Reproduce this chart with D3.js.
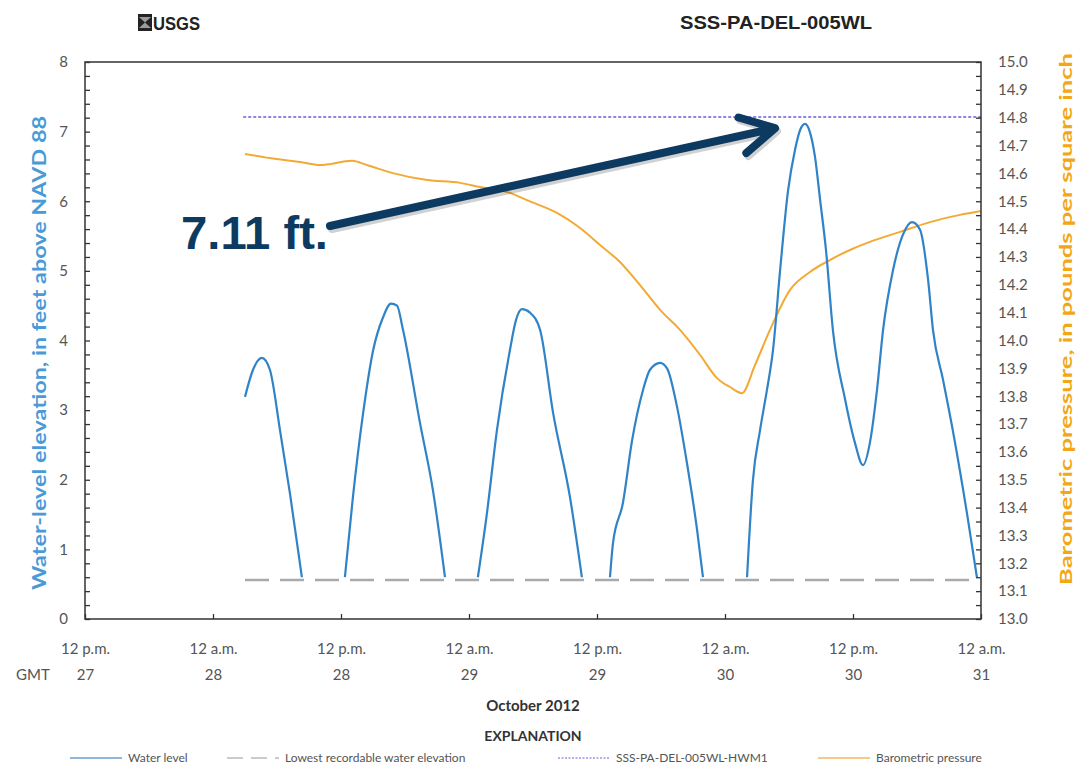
<!DOCTYPE html>
<html>
<head>
<meta charset="utf-8">
<script src="https://cdn.jsdelivr.net/npm/d3@7"></script>
<style>
  html, body { margin: 0; padding: 0; background: #fff; }
  svg { display: block; }
  text { font-family: Lato, "Open Sans", sans-serif; }
</style>
</head>
<body>
<script>
// chart size and plot frame
const width = 1086,
      height = 768,
      margin = {top: 62, right: 105, bottom: 149, left: 85};

const innerWidth = width - margin.left - margin.right,
      innerHeight = height - margin.top - margin.bottom;

// ---- data ----
// water level, ft above NAVD 88 (gaps are where it fell below the sensor)
const waterSegments = [
  [["2012-10-28 03:00", 3.19], ["2012-10-28 03:45", 3.58], ["2012-10-28 04:35", 3.75], ["2012-10-28 05:20", 3.58],
   ["2012-10-28 06:17", 2.71], ["2012-10-28 07:13", 1.80], ["2012-10-28 08:20", 0.60]],
  [["2012-10-28 12:22", 0.60], ["2012-10-28 13:07", 1.75], ["2012-10-28 14:04", 2.95], ["2012-10-28 15:00", 3.85],
   ["2012-10-28 15:56", 4.33], ["2012-10-28 16:41", 4.53], ["2012-10-28 17:15", 4.50], ["2012-10-28 17:49", 4.15],
   ["2012-10-28 19:24", 2.82], ["2012-10-28 20:37", 1.85], ["2012-10-28 21:45", 0.60]],
  [["2012-10-29 00:50", 0.60], ["2012-10-29 01:41", 1.52], ["2012-10-29 02:37", 2.71], ["2012-10-29 03:50", 3.86],
   ["2012-10-29 04:25", 4.30], ["2012-10-29 04:58", 4.45], ["2012-10-29 05:43", 4.40], ["2012-10-29 06:40", 4.15],
   ["2012-10-29 07:53", 2.96], ["2012-10-29 09:28", 1.75], ["2012-10-29 10:35", 0.60]],
  [["2012-10-29 13:13", 0.60], ["2012-10-29 13:30", 1.09], ["2012-10-29 14:26", 1.67], ["2012-10-29 15:17", 2.56],
   ["2012-10-29 16:19", 3.29], ["2012-10-29 16:58", 3.58], ["2012-10-29 17:55", 3.68], ["2012-10-29 18:34", 3.60],
   ["2012-10-29 19:30", 3.05], ["2012-10-29 20:26", 2.24], ["2012-10-29 21:23", 1.28], ["2012-10-29 21:56", 0.60]],
  [["2012-10-30 02:04", 0.60], ["2012-10-30 02:37", 1.99], ["2012-10-30 03:17", 2.71], ["2012-10-30 03:56", 3.29],
   ["2012-10-30 04:30", 3.86], ["2012-10-30 05:10", 5.01], ["2012-10-30 05:55", 6.16], ["2012-10-30 06:34", 6.74],
   ["2012-10-30 07:02", 7.02], ["2012-10-30 07:30", 7.11], ["2012-10-30 07:58", 6.99], ["2012-10-30 08:26", 6.64],
   ["2012-10-30 08:55", 6.02], ["2012-10-30 09:28", 5.30], ["2012-10-30 10:07", 4.15], ["2012-10-30 11:15", 3.16],
   ["2012-10-30 12:11", 2.53], ["2012-10-30 12:56", 2.21], ["2012-10-30 13:35", 2.53], ["2012-10-30 14:15", 3.29],
   ["2012-10-30 14:49", 4.15], ["2012-10-30 15:45", 5.01], ["2012-10-30 16:41", 5.52], ["2012-10-30 17:32", 5.70],
   ["2012-10-30 18:17", 5.59], ["2012-10-30 19:02", 4.88], ["2012-10-30 19:30", 4.15], ["2012-10-30 20:26", 3.44],
   ["2012-10-30 21:22", 2.70], ["2012-10-30 22:41", 1.52], ["2012-10-30 23:37", 0.60]]
];

// barometric pressure, psi
const pressure = [
  ["2012-10-28 03:00", 14.670], ["2012-10-28 05:20", 14.655], ["2012-10-28 08:10", 14.641], ["2012-10-28 10:02", 14.630],
  ["2012-10-28 13:02", 14.645], ["2012-10-28 14:26", 14.630], ["2012-10-28 16:52", 14.601], ["2012-10-28 20:04", 14.576],
  ["2012-10-28 23:10", 14.566], ["2012-10-29 01:02", 14.551], ["2012-10-29 03:50", 14.530], ["2012-10-29 05:26", 14.504],
  ["2012-10-29 08:15", 14.458], ["2012-10-29 10:25", 14.404], ["2012-10-29 12:17", 14.343], ["2012-10-29 14:09", 14.282],
  ["2012-10-29 16:02", 14.199], ["2012-10-29 17:55", 14.110], ["2012-10-29 19:47", 14.038], ["2012-10-29 21:40", 13.948],
  ["2012-10-29 23:15", 13.865], ["2012-10-30 00:28", 13.833], ["2012-10-30 01:35", 13.811], ["2012-10-30 02:49", 13.912],
  ["2012-10-30 04:13", 14.038], ["2012-10-30 06:05", 14.181], ["2012-10-30 07:58", 14.246], ["2012-10-30 09:50", 14.289],
  ["2012-10-30 11:43", 14.325], ["2012-10-30 13:35", 14.354], ["2012-10-30 16:25", 14.390], ["2012-10-30 19:13", 14.425],
  ["2012-10-30 22:02", 14.451], ["2012-10-31 00:00", 14.465]
];

const hwmLevel = 7.21;                 // high-water mark
const hwmRange = ["2012-10-28 02:50", "2012-10-31 00:00"];
const lowestLevel = 0.56;              // lowest recordable elevation
const lowestRange = ["2012-10-28 03:00", "2012-10-30 23:30"];
const peakTime = "2012-10-30 07:30", peakValue = 7.11;

// x axis tick labels
const xTicks = ["2012-10-27 12:00", "2012-10-28 00:00", "2012-10-28 12:00", "2012-10-29 00:00",
                "2012-10-29 12:00", "2012-10-30 00:00", "2012-10-30 12:00", "2012-10-31 00:00"];
const xTickTop = ["12 p.m.", "12 a.m.", "12 p.m.", "12 a.m.", "12 p.m.", "12 a.m.", "12 p.m.", "12 a.m."];
const xTickDay = ["27", "28", "28", "29", "29", "30", "30", "31"];

const legendItems = [
  {label: "Water level", key: "water"},
  {label: "Lowest recordable water elevation", key: "lowest"},
  {label: "SSS-PA-DEL-005WL-HWM1", key: "hwm"},
  {label: "Barometric pressure", key: "baro"}
];

// colours
const waterColor = "#2f83c6",
      baroColor = "#f3aa35",
      hwmColor = "#6a5fd6",
      lowestColor = "#aaaaaa",
      arrowColor = "#0c3a60";

const headFont = "'Liberation Sans', Arial, sans-serif";

const parseTime = d3.timeParse("%Y-%m-%d %H:%M");

// ---- svg ----
const root = d3.select("body")
  .append("svg")
    .attr("width", width)
    .attr("height", height)
    .attr("viewBox", "0 0 " + width + " " + height);

const svg = root.append("g")
    .attr("transform", "translate(" + margin.left + "," + margin.top + ")");

// scales
const xScale = d3.scaleTime()
  .domain([parseTime(xTicks[0]), parseTime(xTicks[xTicks.length - 1])])
  .range([0, innerWidth]);

const yLeft = d3.scaleLinear().domain([0, 8]).range([innerHeight, 0]);
const yRight = d3.scaleLinear().domain([13, 15]).range([innerHeight, 0]);

// ---- header ----
// USGS logo (rough)
const logo = root.append("g").attr("transform", "translate(138,14)");
logo.append("rect").attr("width", 14).attr("height", 17).attr("fill", "#222");
logo.append("path").attr("d", "M1,3 L7,8.5 L13,3 Z M1,14 L7,8.5 L13,14 Z").attr("fill", "#fff").attr("opacity", 0.55);
logo.append("text")
  .attr("x", 15).attr("y", 16)
  .attr("textLength", 47).attr("lengthAdjust", "spacingAndGlyphs")
  .style("font-family", headFont)
  .attr("font-weight", "bold").attr("font-size", 19).attr("fill", "#222")
  .text("USGS");

root.append("text")
  .attr("x", 680).attr("y", 29)
  .attr("textLength", 192).attr("lengthAdjust", "spacingAndGlyphs")
  .style("font-family", headFont)
  .attr("font-weight", "bold").attr("font-size", 18).attr("fill", "#222")
  .text("SSS-PA-DEL-005WL");

// ---- reference lines ----
svg.append("line")
  .attr("x1", xScale(parseTime(lowestRange[0]))).attr("x2", xScale(parseTime(lowestRange[1])))
  .attr("y1", yLeft(lowestLevel)).attr("y2", yLeft(lowestLevel))
  .attr("stroke", lowestColor).attr("stroke-width", 2.5).attr("stroke-dasharray", "24 11");

svg.append("line")
  .attr("x1", xScale(parseTime(hwmRange[0]))).attr("x2", xScale(parseTime(hwmRange[1])))
  .attr("y1", yLeft(hwmLevel)).attr("y2", yLeft(hwmLevel))
  .attr("stroke", hwmColor).attr("stroke-width", 1.5).attr("stroke-dasharray", "3 2");

// ---- series ----
const baroLine = d3.line()
  .x(d => xScale(parseTime(d[0])))
  .y(d => yRight(d[1]))
  .curve(d3.curveMonotoneX);

svg.append("path")
  .datum(pressure)
  .attr("fill", "none")
  .attr("stroke", baroColor)
  .attr("stroke-width", 2)
  .attr("d", baroLine);

const waterLine = d3.line()
  .x(d => xScale(parseTime(d[0])))
  .y(d => yLeft(d[1]))
  .curve(d3.curveMonotoneX);

svg.selectAll(".water")
  .data(waterSegments)
  .enter()
  .append("path")
    .attr("class", "water")
    .attr("fill", "none")
    .attr("stroke", waterColor)
    .attr("stroke-width", 2.2)
    .attr("d", waterLine);

// ---- frame ----
svg.append("rect")
  .attr("width", innerWidth).attr("height", innerHeight)
  .attr("fill", "none").attr("stroke", "#333").attr("stroke-width", 1.5);

// ---- axes ----
const tickFont = 15;

// left axis, minor ticks every 0.2
const leftAxis = svg.append("g")
  .attr("class", "y-axis")
  .call(d3.axisLeft(yLeft)
    .tickValues(d3.range(0, 41).map(i => i * 0.2))
    .tickSize(-5)
    .tickPadding(17)
    .tickFormat(d => Math.abs(d - Math.round(d)) < 1e-6 ? d3.format("d")(d) : ""));
leftAxis.attr("font-size", tickFont).attr("font-family", null);
leftAxis.select(".domain").remove();
leftAxis.selectAll("line").attr("stroke", "#333").attr("stroke-width", 1.3);
leftAxis.selectAll("text").filter(function() { return this.textContent === ""; }).remove();
leftAxis.selectAll("text").attr("fill", "#555");

// right axis, ticks every 0.05
const rightAxis = svg.append("g")
  .attr("class", "y-axis")
  .attr("transform", "translate(" + innerWidth + ",0)")
  .call(d3.axisRight(yRight)
    .tickValues(d3.range(0, 41).map(i => 13 + i * 0.05))
    .tickSize(-5)
    .tickPadding(17)
    .tickFormat((d, i) => i % 2 === 0 ? d3.format(".1f")(d) : ""));
rightAxis.attr("font-size", tickFont).attr("font-family", null);
rightAxis.select(".domain").remove();
rightAxis.selectAll("line").attr("stroke", "#333").attr("stroke-width", 1.3);
rightAxis.selectAll("text").filter(function() { return this.textContent === ""; }).remove();
rightAxis.selectAll("text").attr("fill", "#555");

// x axis, two-line labels
const xAxis = svg.append("g")
  .attr("class", "x-axis")
  .attr("transform", "translate(0," + innerHeight + ")")
  .call(d3.axisBottom(xScale)
    .tickValues(xTicks.map(parseTime))
    .tickSize(-5)
    .tickFormat(""));
xAxis.attr("font-size", tickFont).attr("font-family", null);
xAxis.select(".domain").remove();
xAxis.selectAll("text").remove();
xAxis.selectAll("line").attr("stroke", "#333").attr("stroke-width", 1.3);
xAxis.selectAll(".tick").each(function(d, i) {
  const t = d3.select(this);
  t.append("text").attr("fill", "#555").attr("text-anchor", "middle")
    .attr("y", 35).text(xTickTop[i]);
  t.append("text").attr("fill", "#555").attr("text-anchor", "middle")
    .attr("y", 61).text(xTickDay[i]);
});

root.append("text")
  .attr("x", 16).attr("y", margin.top + innerHeight + 61)
  .attr("font-size", tickFont).attr("fill", "#555")
  .text("GMT");

root.append("text")
  .attr("x", margin.left + innerWidth / 2).attr("y", 711)
  .attr("text-anchor", "middle")
  .attr("font-size", 15).attr("font-weight", "bold").attr("fill", "#333")
  .text("October 2012");

root.append("text")
  .attr("x", margin.left + innerWidth / 2).attr("y", 741)
  .attr("text-anchor", "middle")
  .attr("font-size", 14).attr("font-weight", "bold").attr("fill", "#333")
  .text("EXPLANATION");

// axis titles
root.append("text")
  .attr("transform", "translate(46," + (margin.top + 291) + ") rotate(-90)")
  .attr("text-anchor", "middle")
  .attr("textLength", 474).attr("lengthAdjust", "spacingAndGlyphs")
  .attr("font-size", 18).attr("font-weight", "bold").attr("fill", "#4a9ad8")
  .text("Water-level elevation, in feet above NAVD 88");

root.append("text")
  .attr("transform", "translate(1072," + (margin.top + 257) + ") rotate(-90)")
  .attr("text-anchor", "middle")
  .attr("textLength", 532).attr("lengthAdjust", "spacingAndGlyphs")
  .attr("font-size", 17).attr("font-weight", "bold").attr("fill", "#f3a716")
  .text("Barometric pressure, in pounds per square inch");

// ---- annotation: peak value with arrow ----
const tipX = xScale(parseTime(peakTime)) - 30,
      tipY = yLeft(7.05),
      startX = 330 - margin.left,
      startY = 226 - margin.top;

const ann = svg.append("g");
const angle = Math.atan2(tipY - startY, tipX - startX);
const headLen = 38, headSpread = 0.5;
const arrowPath = "M" + startX + "," + startY + " L" + (tipX - 6 * Math.cos(angle)) + "," + (tipY - 6 * Math.sin(angle)) +
  " M" + (tipX - headLen * Math.cos(angle - headSpread)) + "," + (tipY - headLen * Math.sin(angle - headSpread)) +
  " L" + tipX + "," + tipY +
  " L" + (tipX - headLen * Math.cos(angle + headSpread)) + "," + (tipY - headLen * Math.sin(angle + headSpread));

ann.append("path")
  .attr("d", arrowPath)
  .attr("transform", "translate(2,3)")
  .attr("fill", "none").attr("stroke", "#000").attr("stroke-opacity", 0.18)
  .attr("stroke-width", 8).attr("stroke-linecap", "round").attr("stroke-linejoin", "round");
ann.append("path")
  .attr("d", arrowPath)
  .attr("fill", "none").attr("stroke", arrowColor)
  .attr("stroke-width", 8).attr("stroke-linecap", "round").attr("stroke-linejoin", "round");

ann.append("text")
  .attr("x", 181 - margin.left).attr("y", 249 - margin.top)
  .attr("textLength", 147).attr("lengthAdjust", "spacingAndGlyphs")
  .style("font-family", headFont)
  .attr("font-size", 46).attr("font-weight", "bold").attr("fill", arrowColor)
  .text(peakValue.toFixed(2) + " ft.");

// ---- legend ----
const legendPos = [70, 227, 558, 818];
const legend = root.append("g").attr("transform", "translate(0,758)");
legendItems.forEach(function(item, i) {
  const g = legend.append("g").attr("transform", "translate(" + legendPos[i] + ",0)");
  const ln = g.append("line").attr("x1", 0).attr("x2", 52).attr("y1", 0).attr("y2", 0);
  if (item.key === "water") ln.attr("stroke", "#8db8dc").attr("stroke-width", 2);
  if (item.key === "lowest") ln.attr("stroke", "#bbb").attr("stroke-width", 1.5).attr("stroke-dasharray", "16 8");
  if (item.key === "hwm") ln.attr("stroke", hwmColor).attr("stroke-width", 1.2).attr("stroke-dasharray", "2 1.5");
  if (item.key === "baro") ln.attr("stroke", "#f5c98a").attr("stroke-width", 2);
  g.append("text")
    .attr("x", 58).attr("y", 4)
    .attr("font-size", 12).attr("fill", "#555")
    .text(item.label);
});
</script>
</body>
</html>
